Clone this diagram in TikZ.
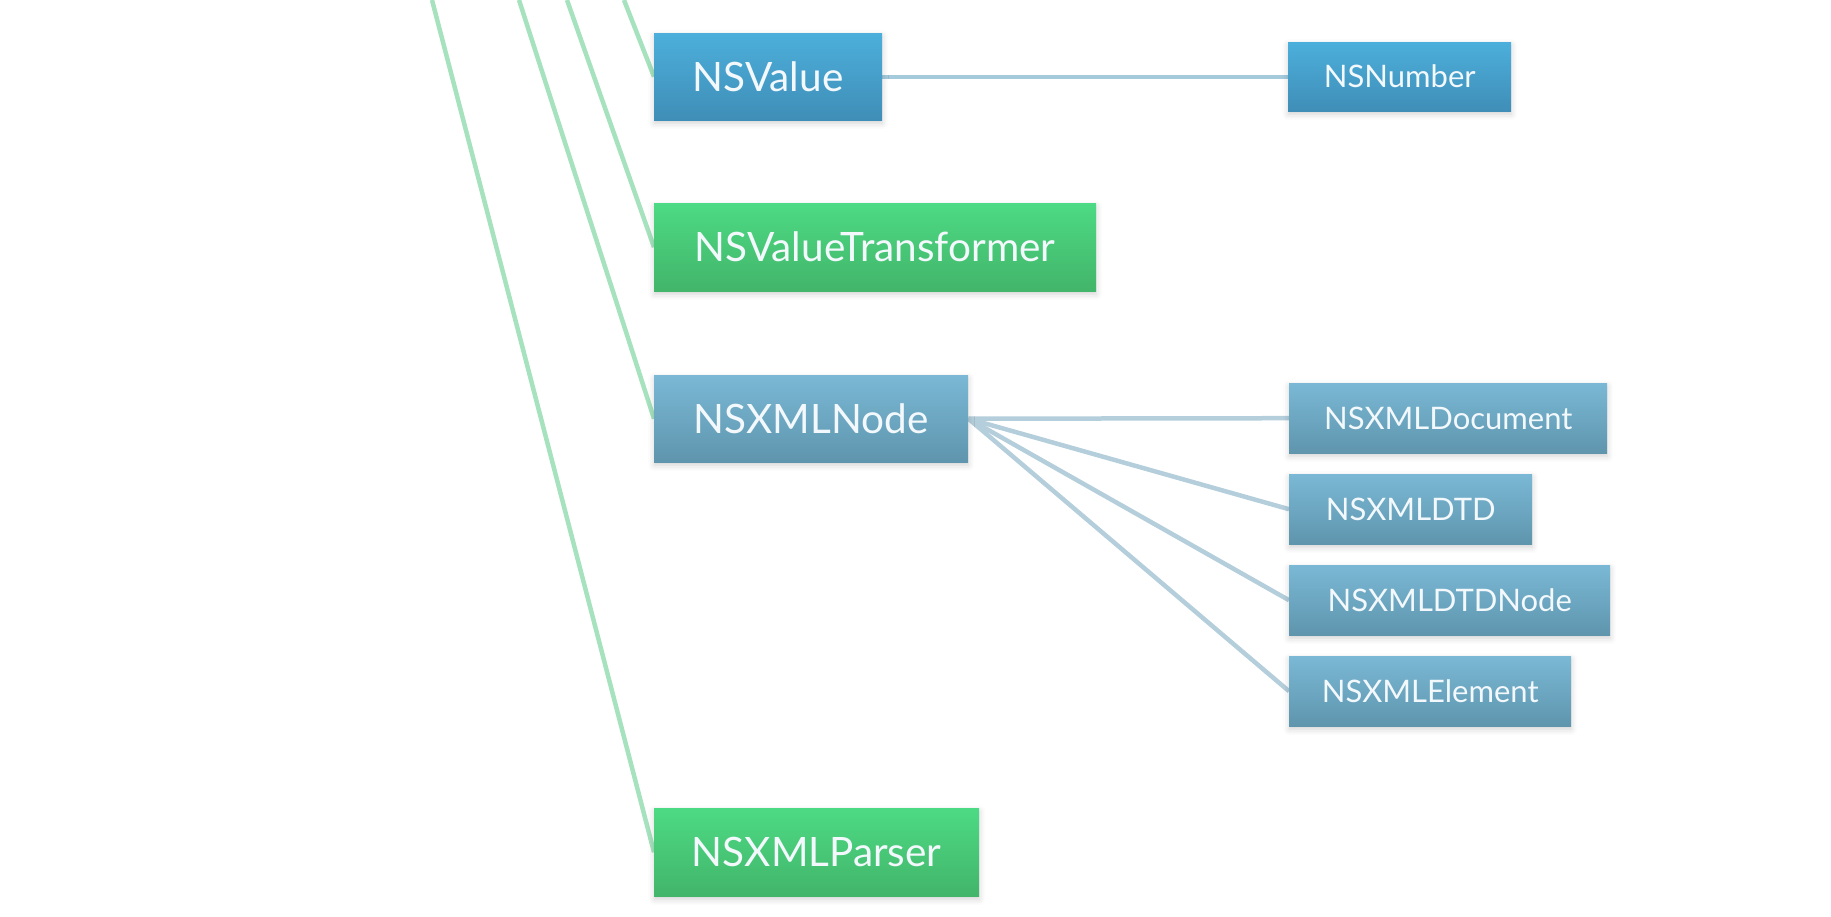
\documentclass[tikz,border=0pt]{standalone}
\usepackage{fontspec}
\setmainfont{Lato}
\usetikzlibrary{shadows.blur}
\pgfdeclarelayer{bg}
\pgfsetlayers{bg,main}
\definecolor{blueTop}{HTML}{4CAFDB}
\definecolor{blueBot}{HTML}{3F8EB7}
\definecolor{greyTop}{HTML}{7AB8D5}
\definecolor{greyBot}{HTML}{5F95AD}
\definecolor{greenTop}{HTML}{4DDA84}
\definecolor{greenBot}{HTML}{42B56A}
\definecolor{greenLine}{HTML}{A6E2BE}
\definecolor{blueLine}{HTML}{A4CADC}
\definecolor{greyLine}{HTML}{B4CEDB}
\definecolor{txt}{HTML}{F2F8FB}
\tikzset{
  box/.style={anchor=north west, inner sep=0pt, text=txt, align=center,
    blur shadow={shadow xshift=0pt, shadow yshift=-3pt, shadow blur radius=6pt, shadow opacity=18}},
  bigbox/.style={box, font=\fontsize{40.5}{44}\selectfont, minimum height=87pt},
  smallbox/.style={box, font=\fontsize{31}{34}\selectfont, minimum height=70pt},
  bluefill/.style={top color=blueTop, bottom color=blueBot},
  greyfill/.style={top color=greyTop, bottom color=greyBot},
  greenfill/.style={top color=greenTop, bottom color=greenBot},
  gline/.style={draw=greenLine, line width=4.5pt},
  bline/.style={draw=blueLine, line width=4pt},
  xline/.style={draw=greyLine, line width=4.5pt},
}
\begin{document}
\begin{tikzpicture}[x=1pt,y=-1pt]
\useasboundingbox (0,0) rectangle (1831,916);
\node[bigbox, bluefill, minimum width=228pt] (value) at (654,33) {NSValue};
\node[smallbox, bluefill, minimum width=223pt, minimum height=69pt] (number) at (1288,42) {NSNumber};
\node[bigbox, greenfill, minimum width=442pt, minimum height=88pt] (transformer) at (654,203) {NSValueTransformer};
\node[bigbox, greyfill, minimum width=314pt] (xmlnode) at (654,375) {NSXMLNode};
\node[smallbox, greyfill, minimum width=318pt] (document) at (1289,383) {NSXMLDocument};
\node[smallbox, greyfill, minimum width=243pt] (dtd) at (1289,474) {NSXMLDTD};
\node[smallbox, greyfill, minimum width=321pt] (dtdnode) at (1289,565) {NSXMLDTDNode};
\node[smallbox, greyfill, minimum width=282pt] (element) at (1289,656) {NSXMLElement};
\node[bigbox, greenfill, minimum width=325pt, minimum height=88pt] (parser) at (654,808) {NSXMLParser};
\coordinate (t1) at (624,0);
\coordinate (t2) at (567,0);
\coordinate (t3) at (519,0);
\coordinate (t4) at (432,0);
\begin{pgfonlayer}{bg}
\draw[gline] (t1) -- (value.west);
\draw[gline] (t2) -- (transformer.west);
\draw[gline] (t3) -- (xmlnode.west);
\draw[gline] (t4) -- (parser.west);
\draw[bline] (value.east) -- (number.west);
\draw[xline] (xmlnode.east) -- (document.west);
\draw[xline] (xmlnode.east) -- (dtd.west);
\draw[xline] (xmlnode.east) -- (dtdnode.west);
\draw[xline] (xmlnode.east) -- (element.west);
\end{pgfonlayer}
\end{tikzpicture}
\end{document}
